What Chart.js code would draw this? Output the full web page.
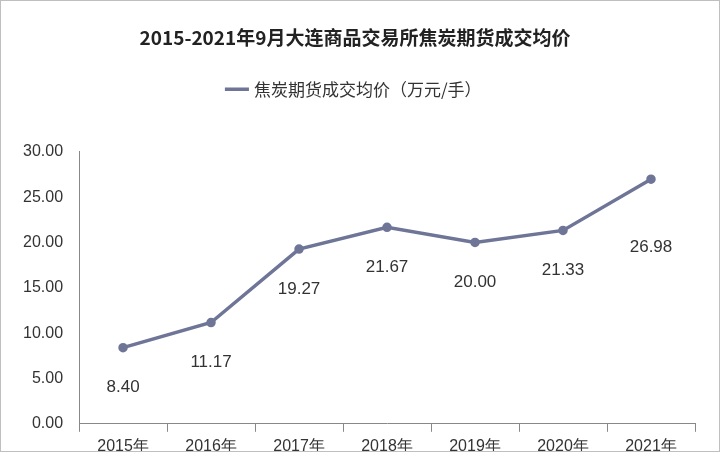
<!DOCTYPE html>
<html><head><meta charset="utf-8">
<script src="https://cdn.jsdelivr.net/npm/chart.js@4/dist/chart.umd.min.js"></script>
<style>html,body{margin:0;padding:0;background:#fff;overflow:hidden}
#w{position:relative;width:720px;height:452px;overflow:hidden;box-sizing:border-box;border:1px solid #bfbfbf}
#c{position:absolute;left:0;top:0}</style></head><body>
<div id="w"><canvas id="c" width="718" height="460" style="width:718px;height:460px"></canvas></div>
<script>
const categories=['2015年','2016年','2017年','2018年','2019年','2020年','2021年'];
const prices=[8.40,11.17,19.27,21.67,20.00,21.33,26.98];
const yTicks=[0,5,10,15,20,25,30];
const labelsPlugin={id:'lbl',beforeInit(ch){const f=ch.legend.fit;ch.legend.fit=function(){f.call(this);this.height+=44;};},
afterDatasetsDraw(ch){const c=ch.ctx;const m=ch.getDatasetMeta(0);c.save();c.font='17px "Liberation Sans",Arial';c.fillStyle='#333';c.textAlign='center';c.textBaseline='middle';
m.data.forEach((p,i)=>{c.fillText(prices[i].toFixed(2),p.x,p.y+(i==6?68:40));});c.restore();}};
new Chart(document.getElementById('c'),{type:'line',
data:{labels:categories,datasets:[{label:'焦炭期货成交均价（万元/手）',data:prices,borderColor:'#6e7597',backgroundColor:'#6e7597',borderWidth:3.5,pointRadius:3,pointBackgroundColor:'#6e7597',tension:0}]},
plugins:[labelsPlugin],
options:{responsive:false,animation:false,layout:{padding:{left:14,right:24,top:0,bottom:0}},
plugins:{title:{display:true,text:'2015-2021年9月大连商品交易所焦炭期货成交均价',color:'#222',font:{size:19,weight:'bold',family:'"Noto Sans CJK SC"'},padding:{top:25,bottom:22}},
legend:{labels:{color:'#333',font:{size:17,family:'"Noto Sans CJK SC"'},usePointStyle:true,pointStyle:'line',boxWidth:60},padding:0},tooltip:{enabled:false}},
scales:{x:{offset:true,grid:{display:true,drawOnChartArea:false,offset:true,color:'#888',tickLength:8},border:{color:'#888'},ticks:{color:'#333',font:{size:16,family:'"Liberation Sans"'},padding:5}},
y:{min:0,max:30,afterBuildTicks(a){a.ticks=yTicks.map(v=>({value:v}));},grid:{display:false},border:{color:'#888'},ticks:{color:'#333',font:{size:16,family:'"Liberation Sans"'},callback:v=>Number(v).toFixed(2),padding:8}}}}});
</script></body></html>
